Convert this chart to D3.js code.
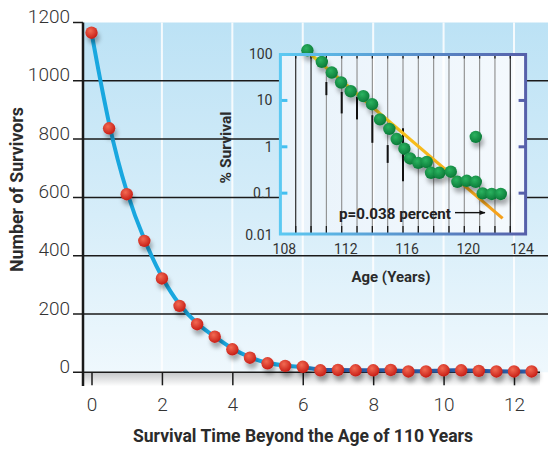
<!DOCTYPE html>
<html>
<head>
<meta charset="utf-8">
<script src="https://cdn.jsdelivr.net/npm/d3@7"></script>
<style>
  body { margin: 0; background: #fff; }
  text { font-family: Roboto, "Noto Sans", sans-serif; fill: #2b2b2b; }
</style>
</head>
<body>
<script>
var width = 550
var height = 450

// main chart: survivors after age 110
var survTime = [0, 0.5, 1, 1.5, 2, 2.5, 3, 3.5, 4, 4.5, 5, 5.5, 6, 6.5, 7, 7.5, 8, 8.5, 9, 9.5, 10, 10.5, 11, 11.5, 12, 12.5]
var survivors = [1165, 837, 611, 451, 322, 228, 165, 122, 79, 50, 31, 22, 19, 7, 8, 7, 7, 8, 3, 3, 7, 7, 5, 3, 3, 3]
var xTicks = [0, 2, 4, 6, 8, 10, 12]
var yTicks = [0, 200, 400, 600, 800, 1000, 1200]

// inset: % survival by age (log scale)
var ages = [109.76, 110.7, 111.35, 111.96, 112.59, 113.41, 113.98, 114.5, 115.11, 115.59, 116.09, 116.46,
            117.0, 117.55, 117.83, 118.37, 119.12, 119.55, 120.16, 120.75, 120.75, 121.2, 121.79, 122.38]
var pctSurvival = [121, 68, 40, 24.4, 15.8, 12.4, 8.3, 3.9, 2.44, 1.47, 0.91, 0.56,
                   0.45, 0.47, 0.275, 0.275, 0.29, 0.176, 0.185, 0.176, 1.64, 0.099, 0.096, 0.096]
var errYears = [111, 112, 113, 114, 115, 116]
var errHigh = [25, 15.3, 11.9, 4.8, 1.09, 2.5]
var errLow = [13, 5.25, 3.9, 1.22, 0.45, 0.18]
var fitAge = [109.8, 122.5]
var fitPct = [111, 0.0286]
var insetXTicks = [108, 112, 116, 120, 124]
var insetYTicks = [100, 10, 1, 0.1, 0.01]
var yearLines = d3.range(109, 124)
var pValue = 0.038

var svg = d3.select("body").append("svg")
    .attr("width", width)
    .attr("height", height)

var defs = svg.append("defs")

var bgGrad = defs.append("linearGradient").attr("id", "bg").attr("x1", 0).attr("y1", 0).attr("x2", 0).attr("y2", 1)
bgGrad.append("stop").attr("offset", "0%").attr("stop-color", "#bce2f5")
bgGrad.append("stop").attr("offset", "55%").attr("stop-color", "#d6edf9")
bgGrad.append("stop").attr("offset", "100%").attr("stop-color", "#eff8fd")

var shGrad = defs.append("linearGradient").attr("id", "floor").attr("x1", 0).attr("y1", 0).attr("x2", 0).attr("y2", 1)
shGrad.append("stop").attr("offset", "0%").attr("stop-color", "#c4c6c8")
shGrad.append("stop").attr("offset", "100%").attr("stop-color", "#ffffff")

var curveGrad = defs.append("linearGradient").attr("id", "curveCol")
    .attr("gradientUnits", "userSpaceOnUse").attr("x1", 91).attr("x2", 540).attr("y1", 0).attr("y2", 0)
curveGrad.append("stop").attr("offset", "0.45").attr("stop-color", "#19a7df")
curveGrad.append("stop").attr("offset", "0.52").attr("stop-color", "#2a5da8")

var redGrad = defs.append("radialGradient").attr("id", "red").attr("cx", "40%").attr("cy", "35%").attr("r", "65%")
redGrad.append("stop").attr("offset", "0%").attr("stop-color", "#f26a52")
redGrad.append("stop").attr("offset", "100%").attr("stop-color", "#c81e16")

var greenGrad = defs.append("radialGradient").attr("id", "green").attr("cx", "40%").attr("cy", "35%").attr("r", "65%")
greenGrad.append("stop").attr("offset", "0%").attr("stop-color", "#2bb360")
greenGrad.append("stop").attr("offset", "100%").attr("stop-color", "#0b7a38")

var fitGrad = defs.append("linearGradient").attr("id", "fitCol")
fitGrad.append("stop").attr("offset", "0%").attr("stop-color", "#f8de1c")
fitGrad.append("stop").attr("offset", "100%").attr("stop-color", "#f5a01c")

var frameGrad = defs.append("linearGradient").attr("id", "frameCol")
frameGrad.append("stop").attr("offset", "0%").attr("stop-color", "#5cc9f2")
frameGrad.append("stop").attr("offset", "100%").attr("stop-color", "#5660aa")

var insetGrad = defs.append("linearGradient").attr("id", "insetBg")
insetGrad.append("stop").attr("offset", "0%").attr("stop-color", "#e9f3fb")
insetGrad.append("stop").attr("offset", "100%").attr("stop-color", "#f4f9fd")

var shadow = defs.append("filter").attr("id", "shadow")
    .attr("x", "-60%").attr("y", "-60%").attr("width", "240%").attr("height", "260%")
shadow.append("feDropShadow").attr("dx", 2).attr("dy", 5).attr("stdDeviation", 2)
    .attr("flood-color", "#000").attr("flood-opacity", 0.3)

var marker = defs.append("marker").attr("id", "arrow")
    .attr("viewBox", "0 0 10 10").attr("refX", 9).attr("refY", 5)
    .attr("markerWidth", 7).attr("markerHeight", 6).attr("orient", "auto")
    .attr("markerUnits", "userSpaceOnUse")
marker.append("path").attr("d", "M0,1 L10,5 L0,9 Z").attr("fill", "#111")

// scales
var x = d3.scaleLinear().domain([0, 12]).range([91.5, 514])
var y = d3.scaleLinear().domain([0, 1200]).range([372.3, 22.5])

var left = 83, right = 548

// background
svg.append("rect")
    .attr("x", left).attr("y", y(1200))
    .attr("width", right - left).attr("height", y(0) - y(1200))
    .attr("fill", "url(#bg)")
svg.append("rect")
    .attr("x", left).attr("y", y(0))
    .attr("width", right - left - 8).attr("height", 14)
    .attr("fill", "url(#floor)")

// white vertical grid
svg.selectAll(".vgrid")
    .data(xTicks.filter(function(d) { return d > 0 }))
    .enter().append("line")
    .attr("class", "vgrid")
    .attr("x1", function(d) { return x(d) }).attr("x2", function(d) { return x(d) })
    .attr("y1", y(1200)).attr("y2", y(0))
    .style("stroke", "#fff").style("stroke-width", 2).style("opacity", 0.85)

// black horizontal grid
svg.selectAll(".hgrid")
    .data(yTicks)
    .enter().append("line")
    .attr("class", "hgrid")
    .attr("x1", 73)
    .attr("x2", function(d) { return d === 1200 ? left : (d === 0 ? 540 : right) })
    .attr("y1", function(d) { return y(d) }).attr("y2", function(d) { return y(d) })
    .style("stroke", "#1a1a1a").style("stroke-width", 1.5)

// y axis labels
var yAxis = svg.append("g")
    .attr("transform", "translate(73,0)")
    .call(d3.axisLeft(y).tickValues(yTicks).tickSize(0).tickPadding(3).tickFormat(d3.format("d")))
yAxis.select(".domain").remove()
yAxis.selectAll("text")
    .attr("dy", "0em")
    .style("font-size", "19px").style("font-weight", 300)
    .style("font-family", "Roboto, sans-serif").style("fill", "#333")

// x axis ticks and labels
var xAxis = svg.append("g")
    .attr("transform", "translate(0," + y(0) + ")")
    .call(d3.axisBottom(x).tickValues(xTicks).tickSize(13).tickFormat(d3.format("d")))
xAxis.select(".domain").remove()
xAxis.selectAll("line").style("stroke", "#1a1a1a").style("stroke-width", 1.5)
xAxis.selectAll("text")
    .attr("y", 38.4).attr("dy", "0em")
    .style("font-size", "19px").style("font-weight", 300)
    .style("font-family", "Roboto, sans-serif").style("fill", "#333")

// y axis line
svg.append("line")
    .attr("x1", left).attr("x2", left)
    .attr("y1", y(1200)).attr("y2", 386)
    .style("stroke", "#1a1a1a").style("stroke-width", 2.5)

// ----- inset -----
var xIn = d3.scaleLinear().domain([108, 124]).range([280.4, 525.6])
var yIn = d3.scaleLog().domain([0.01, 100]).range([239.5, 54.1])
var fTop = 54.5, fBottom = 234

svg.append("rect")
    .attr("x", xIn(108)).attr("y", fTop)
    .attr("width", xIn(124) - xIn(108)).attr("height", fBottom - fTop)
    .attr("fill", "url(#insetBg)")

// main white grid shows through the inset
svg.selectAll(".vgridIn")
    .data(xTicks.filter(function(d) { return x(d) > xIn(108) && x(d) < xIn(124) }))
    .enter().append("line")
    .attr("x1", function(d) { return x(d) }).attr("x2", function(d) { return x(d) })
    .attr("y1", fTop).attr("y2", fBottom)
    .style("stroke", "#fff").style("stroke-width", 2.5).style("opacity", 0.9)

// year lines
svg.selectAll(".yearLine")
    .data(yearLines)
    .enter().append("line")
    .attr("class", "yearLine")
    .attr("x1", function(d) { return xIn(d) }).attr("x2", function(d) { return xIn(d) })
    .attr("y1", fTop).attr("y2", fBottom)
    .style("stroke", function(d) { return (d <= 110 || d === 123) ? "#1a1a1a" : "#8c8c8c" })
    .style("stroke-width", 1.1)

svg.selectAll(".tickBot")
    .data(yearLines)
    .enter().append("line")
    .attr("x1", function(d) { return xIn(d) }).attr("x2", function(d) { return xIn(d) })
    .attr("y1", fBottom - 8).attr("y2", fBottom)
    .style("stroke", "#1a1a1a").style("stroke-width", 1.3)
svg.selectAll(".tickTop")
    .data(yearLines)
    .enter().append("line")
    .attr("x1", function(d) { return xIn(d) }).attr("x2", function(d) { return xIn(d) })
    .attr("y1", fTop).attr("y2", fTop + 4)
    .style("stroke", "#1a1a1a").style("stroke-width", 1.3)

// error bars
svg.selectAll(".err")
    .data(errYears)
    .enter().append("line")
    .attr("x1", function(d) { return xIn(d) }).attr("x2", function(d) { return xIn(d) })
    .attr("y1", function(d, i) { return yIn(errHigh[i]) })
    .attr("y2", function(d, i) { return yIn(errLow[i]) })
    .style("stroke", "#111").style("stroke-width", 2)

// side ticks
svg.selectAll(".ltick")
    .data([10, 1, 0.1])
    .enter().append("line")
    .attr("x1", xIn(108)).attr("x2", xIn(108) + 7)
    .attr("y1", function(d) { return yIn(d) }).attr("y2", function(d) { return yIn(d) })
    .style("stroke", "#44bff0").style("stroke-width", 3)
svg.selectAll(".rtick")
    .data([10, 1, 0.1])
    .enter().append("line")
    .attr("x1", xIn(124) - 7).attr("x2", xIn(124))
    .attr("y1", function(d) { return yIn(d) }).attr("y2", function(d) { return yIn(d) })
    .style("stroke", "#5660aa").style("stroke-width", 3)

// fit line
var fitLine = d3.line()
    .x(function(d, i) { return xIn(fitAge[i]) })
    .y(function(d, i) { return yIn(fitPct[i]) })
svg.append("path")
    .attr("d", fitLine(fitAge))
    .attr("fill", "none")
    .style("stroke", "url(#fitCol)").style("stroke-width", 3.2)

// green points
svg.selectAll(".gpt")
    .data(ages)
    .enter().append("circle")
    .attr("cx", function(d) { return xIn(d) })
    .attr("cy", function(d, i) { return yIn(pctSurvival[i]) })
    .attr("r", 6.2)
    .attr("fill", "url(#green)")
    .attr("filter", "url(#shadow)")

svg.append("rect")
    .attr("x", xIn(108)).attr("y", fTop)
    .attr("width", xIn(124) - xIn(108)).attr("height", fBottom - fTop)
    .attr("fill", "none")
    .style("stroke", "url(#frameCol)").style("stroke-width", 3)

// inset labels
svg.selectAll(".inY")
    .data(insetYTicks)
    .enter().append("text")
    .attr("x", 272.5)
    .attr("y", function(d) { return Math.min(yIn(d), 235) })
    .attr("dy", "0.36em")
    .attr("text-anchor", "end")
    .style("font-size", "14px").style("fill", "#333")
    .text(function(d) { return d })
svg.selectAll(".inX")
    .data(insetXTicks)
    .enter().append("text")
    .attr("x", function(d) { return Math.min(xIn(d) + 4, 522) })
    .attr("y", 253.5)
    .attr("text-anchor", "middle")
    .style("font-size", "14px").style("fill", "#333")
    .text(function(d) { return d })

svg.append("text")
    .attr("transform", "translate(231,147.5) rotate(-90)")
    .attr("text-anchor", "middle")
    .attr("textLength", 72).attr("lengthAdjust", "spacingAndGlyphs")
    .style("font-size", "15px").style("font-weight", 700)
    .text("% Survival")
svg.append("text")
    .attr("x", 391).attr("y", 282)
    .attr("text-anchor", "middle")
    .attr("textLength", 79).attr("lengthAdjust", "spacingAndGlyphs")
    .style("font-size", "15.5px").style("font-weight", 700)
    .text("Age (Years)")

// annotation
var pY = yIn(pValue)
svg.append("text")
    .attr("x", 339).attr("y", pY + 6)
    .attr("textLength", 112).attr("lengthAdjust", "spacingAndGlyphs")
    .style("font-size", "15.5px").style("font-weight", 700).style("fill", "#222")
    .text("p=0.038 percent")
svg.append("line")
    .attr("x1", 455).attr("x2", xIn(121.35))
    .attr("y1", pY).attr("y2", pY)
    .style("stroke", "#111").style("stroke-width", 1.4)
    .attr("marker-end", "url(#arrow)")

// ----- main curve and points -----
var curve = d3.line()
    .x(function(d) { return x(d) })
    .y(function(d, i) { return y(survivors[i]) })
    .curve(d3.curveBasis)
svg.append("path")
    .attr("d", curve(survTime))
    .attr("fill", "none")
    .style("stroke", "url(#curveCol)").style("stroke-width", 4)

svg.selectAll(".rpt")
    .data(survTime)
    .enter().append("circle")
    .attr("cx", function(d) { return x(d) })
    .attr("cy", function(d, i) { return y(survivors[i]) })
    .attr("r", 6.2)
    .attr("fill", "url(#red)")
    .attr("filter", "url(#shadow)")

// axis titles
svg.append("text")
    .attr("x", 303).attr("y", 442)
    .attr("text-anchor", "middle")
    .attr("textLength", 340).attr("lengthAdjust", "spacingAndGlyphs")
    .style("font-size", "18px").style("font-weight", 700)
    .text("Survival Time Beyond the Age of 110 Years")
svg.append("text")
    .attr("transform", "translate(23,189.5) rotate(-90)")
    .attr("text-anchor", "middle")
    .attr("textLength", 165).attr("lengthAdjust", "spacingAndGlyphs")
    .style("font-size", "18px").style("font-weight", 700)
    .text("Number of Survivors")
</script>
</body>
</html>
